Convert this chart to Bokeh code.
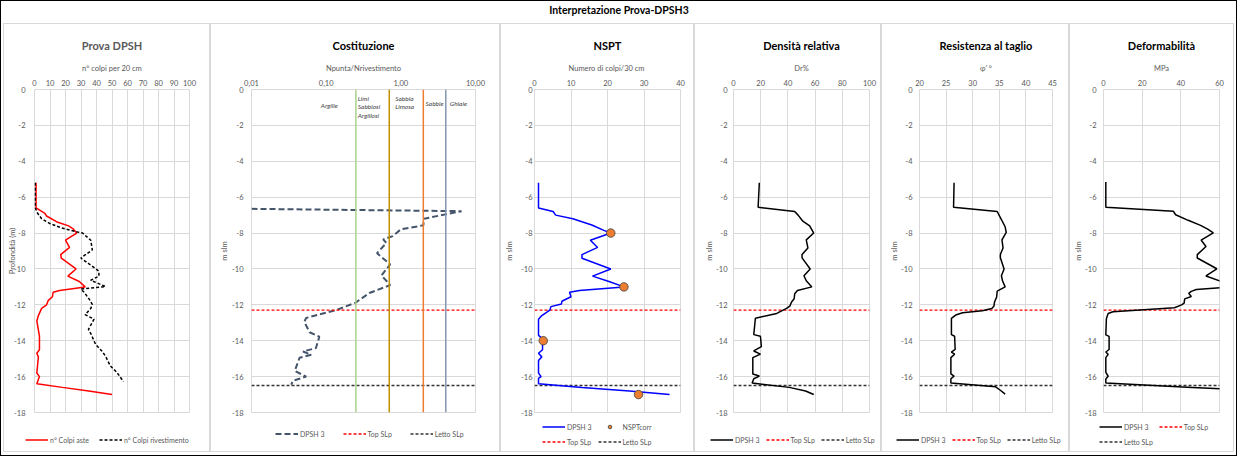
from bokeh.plotting import figure
from bokeh.layouts import row, column
from bokeh.models import Range1d, FixedTicker, CustomJSTickFormatter, Legend, Span
from bokeh.core.properties import value
from bokeh.embed import file_html
from bokeh.resources import INLINE

# ---------------- data ----------------
y_ticks = [0, -2, -4, -6, -8, -10, -12, -14, -16, -18]
x1_ticks = [0, 10, 20, 30, 40, 50, 60, 70, 80, 90, 100]
x2_ticks = [0.01, 0.1, 1, 10]
x3_ticks = [0, 10, 20, 30, 40]
x4_ticks = [0, 20, 40, 60, 80, 100]
x5_ticks = [20, 25, 30, 35, 40, 45]
x6_ticks = [0, 20, 40, 60]

# Prova DPSH - n° colpi aste
depth_aste = [-5.2, -6.6, -6.9, -7.05, -7.4, -7.6, -7.75, -8.0, -8.4, -8.8, -9.2, -9.4, -10.0, -10.4,
              -10.7, -11.0, -11.2, -11.3, -11.55, -11.75, -12.0, -12.2, -12.6, -12.9, -13.75, -14.5,
              -14.7, -14.9, -15.8, -16.0, -16.4, -16.6, -16.8, -17.0]
colpi_aste = [1, 1, 6.7, 7.8, 15, 22, 24.7, 27.2, 20, 22.6, 16.9, 17.3, 26.8, 21.5,
              28.9, 32.7, 16.2, 12, 11.6, 8.9, 7.8, 4.6, 2.5, 1.5, 3.2, 3.2,
              1.5, 2.5, 1.5, 3.2, 1.5, 18, 35, 50]
# Prova DPSH - n° colpi rivestimento
depth_riv = [-5.2, -6.6, -6.9, -7.2, -7.45, -7.7, -7.93, -8.0, -8.4, -8.94, -9.39, -9.66, -10.12,
             -10.4, -10.63, -10.98, -11.12, -11.3, -11.67, -11.98, -12.2, -12.55, -12.8, -13.37,
             -13.6, -14.2, -14.6, -14.86, -15.4, -15.77, -16.28]
colpi_riv = [0.5, 0.5, 2, 4.6, 9.5, 17, 27, 31, 36.3, 37.3, 29.9, 34.2, 41.5,
             41.6, 36.3, 45.8, 29.9, 32, 35.2, 37.3, 36.3, 32.7, 38.4, 34.8,
             36.3, 39.4, 43.7, 45.8, 48.9, 53.2, 57.4]
# Costituzione - Npunta/Nrivestimento
depth_ratio = [-6.65, -6.78, -7.2, -7.57, -7.79, -8.17, -8.35, -8.55, -9.12, -9.75, -10.36, -10.9,
               -11.34, -11.89, -12.3, -12.73, -12.95, -13.53, -13.77, -14.41, -14.6, -14.78,
               -14.95, -15.68, -16.0, -16.23, -16.45]
ratio = [0.01, 6.5, 2.05, 2.0, 1.0, 0.78, 0.58, 0.64, 0.48, 0.72, 0.55, 0.72,
         0.38, 0.245, 0.134, 0.054, 0.051, 0.06, 0.081, 0.073, 0.049, 0.063,
         0.044, 0.038, 0.054, 0.036, 0.034]
zone_limits = [0.25, 0.7, 2, 4]
zone_colors = ["#A9D18E", "#BF8F00", "#ED7D31", "#8497B0"]
zone_names_center = ["Argille", "Sabbie", "Ghiaie"]
zone_names_left = ["Limi\nSabbiosi\nArgillosi", "Sabbia\nLimosa"]
# NSPT
depth_nspt = [-5.2, -6.6, -6.8, -7.0, -7.2, -7.55, -7.85, -8.0, -8.4, -8.8, -9.2, -9.4, -10.0, -10.4,
              -10.7, -11.0, -11.2, -11.3, -11.55, -11.8, -11.95, -12.1, -12.3, -12.6, -12.8, -13.7,
              -13.9, -14.5, -14.7, -14.9, -15.1, -15.8, -16.0, -16.1, -16.4, -16.6, -16.8, -17.0]
nspt = [1.1, 1.1, 5.1, 5.8, 10.5, 15.7, 19, 20.9, 15.3, 17.3, 13, 13, 20.9, 15.9,
        20.4, 24.5, 12.3, 9.6, 10, 7.5, 7.4, 4.5, 4.2, 2, 1.1, 1.1,
        2.2, 2.2, 1.1, 2, 1.1, 1.1, 1.8, 1.1, 1.1, 13, 26, 37]
depth_corr = [-8, -11, -14, -17]
nspt_corr = [20.9, 24.5, 2.4, 28.5]
# Densità relativa
depth_dr = [-5.2, -6.56, -6.8, -7.0, -7.34, -7.6, -8.0, -8.38, -8.83, -9.2, -9.38, -10.0, -10.38,
            -10.66, -11.0, -11.2, -11.38, -11.66, -11.84, -12.07, -12.2, -12.48, -12.75, -13.66,
            -13.75, -14.33, -14.57, -14.75, -14.94, -15.85, -15.97, -16.12, -16.36, -16.6, -16.8, -17.0]
dr = [19, 18.1, 45, 47.5, 51, 56, 59, 53.5, 54.7, 50.4, 50.4, 56.4, 51.8,
      53.5, 57.6, 47, 45, 44.6, 42.7, 41.4, 39, 31.8, 16.1, 14.9,
      19.8, 20.5, 14.9, 19.8, 14.2, 14.2, 19, 14.9, 13.7, 41, 53, 59]
# Resistenza al taglio
depth_phi = [-5.2, -6.56, -6.8, -7.2, -7.65, -7.96, -8.38, -8.83, -9.2, -9.38, -10.0, -10.38, -10.66,
             -11.0, -11.24, -11.57, -11.84, -12.07, -12.2, -12.33, -12.44, -12.57, -12.75, -13.66,
             -13.75, -14.48, -14.63, -14.75, -14.94, -15.85, -15.97, -16.12, -16.36, -16.57, -16.76, -16.98]
phi = [26.5, 26.4, 34.6, 35.3, 36.1, 36.3, 35.5, 35.7, 35.2, 35.2, 35.9, 35.4, 35.6,
       36.1, 34.6, 34.5, 34.1, 34.0, 33.6, 31.8, 28.1, 26.8, 26.0, 26.0,
       26.6, 26.7, 26.0, 26.6, 25.9, 25.9, 26.5, 25.9, 25.9, 34.3, 35.2, 36.1]
# Deformabilità
depth_e = [-5.16, -6.56, -6.78, -6.98, -7.29, -7.57, -7.78, -7.99, -8.39, -8.75, -9.2, -9.39, -9.99,
           -10.39, -10.7, -11.0, -11.15, -11.25, -11.36, -11.54, -11.67, -11.9, -12.0, -12.16, -12.39,
           -12.48, -12.76, -13.67, -13.76, -14.49, -14.63, -14.76, -14.94, -15.76, -15.98, -16.13,
           -16.36, -16.6, -16.8, -17.0]
e_mpa = [1.2, 1.2, 36.1, 37.3, 43.8, 50.2, 53.9, 56.8, 50.5, 53, 48.5, 48.5, 58.6,
         53, 61, 67, 48, 45.4, 44.1, 45.4, 42, 41.7, 40.4, 36.7, 4.9,
         2.4, 1.5, 1.2, 2.9, 2.9, 1.2, 2.4, 1.2, 1.2, 2.4, 1.2,
         1.2, 46, 85, 105]
top_slp = -12.3
letto_slp = -16.5

# ---------------- style ----------------
FONT = "Lato"
GRID = "#d9d9d9"
TXT = "#595959"
MAIN_H = 396
LEG_H = 31
TOP = 65
BOTTOM = 8


def panel(width, left, right, xr, ticks, title, tcolor, xlabel, ylabel,
          log=False, fmt="return tick.toFixed(0);", xgrid=True, ystand=6, ylab_stand=2):
    p = figure(width=width, height=MAIN_H, x_range=xr, y_range=Range1d(-18, 0),
               x_axis_type="log" if log else "linear", x_axis_location="above",
               output_backend="svg", toolbar_location=None,
               min_border_left=left, min_border_right=right,
               min_border_top=TOP, min_border_bottom=BOTTOM,
               background_fill_color="white", border_fill_color="white")
    p.title.text = title
    p.title.align = "center"
    p.title.text_font = FONT
    p.title.text_font_size = "11px"
    p.title.text_font_style = "bold"
    p.title.text_color = tcolor
    p.title.standoff = 17
    xa = p.xaxis[0]
    xa.ticker = FixedTicker(ticks=ticks, minor_ticks=[])
    xa.formatter = CustomJSTickFormatter(code=fmt)
    xa.axis_label = xlabel
    xa.major_label_standoff = 4
    xa.axis_label_standoff = 4
    ya = p.yaxis[0]
    ya.ticker = FixedTicker(ticks=y_ticks, minor_ticks=[])
    ya.formatter = CustomJSTickFormatter(code="return tick.toFixed(0);")
    ya.axis_label = ylabel
    ya.major_label_standoff = ystand
    ya.axis_label_standoff = ylab_stand
    for ax in (xa, ya):
        ax.axis_line_color = None
        ax.major_tick_line_color = None
        ax.minor_tick_line_color = None
        ax.major_tick_out = 0
        ax.major_tick_in = 0
        ax.minor_tick_out = 0
        ax.minor_tick_in = 0
        ax.major_label_text_font = FONT
        ax.major_label_text_font_size = "7.5px"
        ax.major_label_text_color = TXT
        ax.axis_label_text_font = FONT
        ax.axis_label_text_font_size = "7.5px"
        ax.axis_label_text_font_style = "normal"
        ax.axis_label_text_color = TXT
    p.xgrid.grid_line_color = GRID if xgrid else None
    p.ygrid.grid_line_color = GRID
    p.outline_line_color = GRID
    return p


def legend_strip(p, series, loc, spacing=6, ncols=None, log=False):
    """A strip under the panel holding its legend; series are drawn again
    with the same data, outside the strip's (0, 1) view, just to key the legend."""
    s = figure(width=p.width, height=LEG_H, x_range=p.x_range, y_range=Range1d(0, 1),
               x_axis_type="log" if log else "linear",
               output_backend="svg", toolbar_location=None, min_border=0,
               background_fill_color="white", border_fill_color="white")
    try:
        s.frame_align = False
    except Exception:
        pass
    s.axis.visible = False
    s.grid.visible = False
    s.outline_line_color = None
    items = []
    for label, kind, xs, ys, kw in series:
        if kind == "line":
            r = s.line(xs, ys, **kw)
        else:
            r = s.scatter(xs, ys, **kw)
        items.append((label, [r]))
    lg = Legend(items=items, location=loc, orientation="horizontal", spacing=spacing,
                padding=0, margin=0, label_text_font=FONT, label_text_font_size="7px",
                label_text_color=TXT, label_standoff=2, glyph_width=23, glyph_height=9,
                label_height=9, border_line_color=None, background_fill_alpha=0)
    if ncols:
        lg.ncols = ncols
    s.add_layout(lg)
    return s


TOP_KW = dict(line_color="#FF0000", line_width=1.3, line_dash="3 2")
LET_KW = dict(line_color="#333333", line_width=1.5, line_dash="3 2")


def slp(p, xr):
    p.line([xr.start, xr.end], [top_slp, top_slp], **TOP_KW)
    p.line([xr.start, xr.end], [letto_slp, letto_slp], **LET_KW)


def slp_series(xr):
    return [("Top SLp", "line", [xr.start, xr.end], [top_slp, top_slp], TOP_KW),
            ("Letto SLp", "line", [xr.start, xr.end], [letto_slp, letto_slp], LET_KW)]


# Panel 1
xr1 = Range1d(0, 100)
p1 = panel(205, 30, 20, xr1, x1_ticks, "Prova DPSH", TXT, "n° colpi per 20 cm", "Profondità (m)",
           ystand=9, ylab_stand=-6)
ASTE_KW = dict(line_color="#FF0000", line_width=1.5)
RIV_KW = dict(line_color="black", line_width=1.5, line_dash="3 2")
p1.line(colpi_aste, depth_aste, **ASTE_KW)
p1.line(colpi_riv, depth_riv, **RIV_KW)
s1 = legend_strip(p1, [("n° Colpi aste", "line", colpi_aste, depth_aste, ASTE_KW),
                       ("n° Colpi rivestimento", "line", colpi_riv, depth_riv, RIV_KW)],
                  (21, 7), spacing=10)

# Panel 2
xr2 = Range1d(0.01, 10)
p2 = panel(288, 40, 24, xr2, x2_ticks, "Costituzione", "black", "Npunta/Nrivestimento", "m slm",
           log=True, fmt="return tick.toFixed(2).replace('.', ',');", xgrid=False,
           ystand=8, ylab_stand=0)
for lim, col in zip(zone_limits, zone_colors):
    p2.add_layout(Span(location=lim, dimension="height", line_color=col, line_width=1.5))
p2.text(x=[0.11, 2.83, 5.9], y=[-0.91, -0.77, -0.77], text=zone_names_center,
        text_font=value(FONT), text_font_style="italic", text_font_size="6.5px",
        text_color="#404040", text_align="center", text_baseline="middle")
p2.text(x=[0.265, 0.84], y=[-0.28, -0.28], text=zone_names_left,
        text_font=value(FONT), text_font_style="italic", text_font_size="6.5px",
        text_color="#404040", text_align="left", text_baseline="top", text_line_height=1.25)
RAT_KW = dict(line_color="#44546A", line_width=2, line_dash="6 3")
p2.line(ratio, depth_ratio, **RAT_KW)
slp(p2, xr2)
s2 = legend_strip(p2, [("DPSH 3", "line", ratio, depth_ratio, RAT_KW)] + slp_series(xr2),
                  (64, 13), spacing=18, log=True)

# Panel 3
xr3 = Range1d(0, 40)
p3 = panel(192, 33, 13, xr3, x3_ticks, "NSPT", "black", "Numero  di colpi/30 cm", "m slm",
           ystand=2, ylab_stand=4)
slp(p3, xr3)
NSPT_KW = dict(line_color="#0000FF", line_width=1.5)
CORR_KW = dict(size=8.5, fill_color="#ED7D31", line_color="#404040", line_width=0.8)
p3.line(nspt, depth_nspt, **NSPT_KW)
p3.scatter(nspt_corr, depth_corr, **CORR_KW)
ser3 = slp_series(xr3)
s3 = legend_strip(p3, [("DPSH 3", "line", nspt, depth_nspt, NSPT_KW),
                       ("NSPTcorr", "scatter", nspt_corr, depth_corr, CORR_KW),
                       ser3[0], ser3[1]],
                  (41, 5), spacing=6, ncols=2)

# Panel 4
xr4 = Range1d(0, 100)
p4 = panel(185, 38, 11, xr4, x4_ticks, "Densità relativa", "black", "Dr%", "m slm",
           ystand=6, ylab_stand=-1)
BLK_KW = dict(line_color="black", line_width=1.5)
slp(p4, xr4)
p4.line(dr, depth_dr, **BLK_KW)
s4 = legend_strip(p4, [("DPSH 3", "line", dr, depth_dr, BLK_KW)] + slp_series(xr4),
                  (15, 7), spacing=6)

# Panel 5
xr5 = Range1d(20, 45)
p5 = panel(186, 37, 16, xr5, x5_ticks, "Resistenza al taglio", "black", "φ' °", "m slm",
           ystand=7, ylab_stand=-1)
slp(p5, xr5)
p5.line(phi, depth_phi, **BLK_KW)
s5 = legend_strip(p5, [("DPSH 3", "line", phi, depth_phi, BLK_KW)] + slp_series(xr5),
                  (14, 7), spacing=6)

# Panel 6
xr6 = Range1d(0, 60)
p6 = panel(163, 33, 14, xr6, x6_ticks, "Deformabilità", "black", "MPa", "m slm",
           ystand=7, ylab_stand=-1)
slp(p6, xr6)
p6.line(e_mpa, depth_e, **BLK_KW)
s6 = legend_strip(p6, [("DPSH 3", "line", e_mpa, depth_e, BLK_KW)] + slp_series(xr6),
                  (29, 5), spacing=6, ncols=2)

# Main title
tf = figure(width=1231, height=22, x_range=Range1d(0, 1), y_range=Range1d(0, 1),
            output_backend="svg", toolbar_location=None, min_border=0,
            border_fill_color="white")
tf.axis.visible = False
tf.grid.visible = False
tf.outline_line_color = None
tf.title.text = "Interpretazione Prova-DPSH3"
tf.title.align = "center"
tf.title.text_font = FONT
tf.title.text_font_size = "10.5px"
tf.title.text_font_style = "bold"
tf.title.text_color = "black"
tf.title.standoff = 0

boxed = [column(p, s, spacing=0, styles={"border": "1px solid #d9d9d9"})
         for p, s in ((p1, s1), (p2, s2), (p3, s3), (p4, s4), (p5, s5), (p6, s6))]
panels = row(*boxed, spacing=0)
root = column(tf, panels, spacing=0,
              styles={"border": "1px solid black", "padding": "0px 2px 3px 2px",
                      "background-color": "white"})

open("out.html", "w").write(file_html(root, INLINE))
